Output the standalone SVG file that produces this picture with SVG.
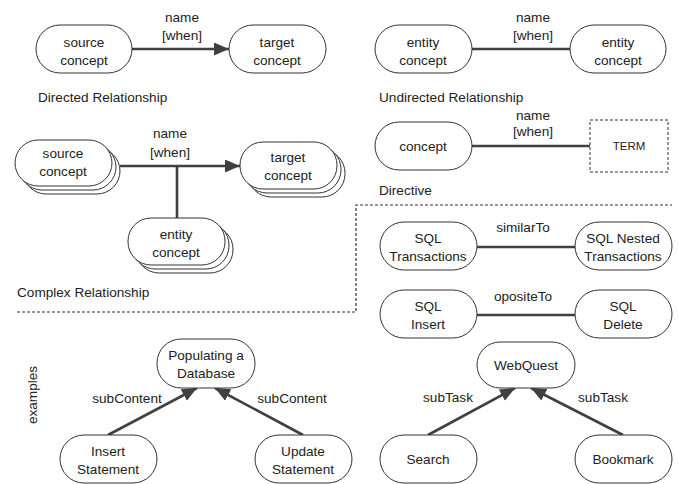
<svg xmlns="http://www.w3.org/2000/svg" width="678" height="484" viewBox="0 0 678 484">
<defs>
<style>
text{font-family:"Liberation Sans","DejaVu Sans",sans-serif;font-size:13.6px;fill:#222;text-anchor:middle}
.lbl{text-anchor:start}
.n{fill:#fff;stroke:#333;stroke-width:1}
.c{stroke:#404040;stroke-width:2.6;fill:none}
.sep{stroke:#333;stroke-width:1.2;stroke-dasharray:3 2;fill:none}
</style>
<marker id="ah" markerUnits="userSpaceOnUse" markerWidth="16" markerHeight="14" refX="15" refY="6.5" orient="auto">
<path d="M0,0 L15,6.5 L0,13 z" fill="#404040"/>
</marker>
</defs>
<rect width="678" height="484" fill="#fff"/>

<g id="connectors">
<line class="c" x1="132" y1="49" x2="229" y2="49" marker-end="url(#ah)"/>
<line class="c" x1="472" y1="49" x2="570" y2="49"/>
<line class="c" x1="472" y1="146" x2="590" y2="146"/>
<line class="c" x1="120" y1="166" x2="240" y2="166" marker-end="url(#ah)"/>
<line class="c" x1="177" y1="166" x2="177" y2="218"/>
<line class="c" x1="477" y1="247" x2="575" y2="247"/>
<line class="c" x1="477" y1="315" x2="575" y2="315"/>
<line class="c" x1="108" y1="435" x2="197" y2="388" marker-end="url(#ah)"/>
<line class="c" x1="303" y1="435" x2="215" y2="388" marker-end="url(#ah)"/>
<line class="c" x1="428" y1="435" x2="515" y2="388" marker-end="url(#ah)"/>
<line class="c" x1="623" y1="435" x2="531" y2="388" marker-end="url(#ah)"/>
</g>

<g id="separator">
<path class="sep" d="M17,312 H356 V205 H672"/>
</g>

<g id="labels">
<text x="182" y="22">name</text>
<text x="182" y="40">[when]</text>
<text class="lbl" x="38" y="102">Directed Relationship</text>
<text x="533" y="22">name</text>
<text x="533" y="40">[when]</text>
<text class="lbl" x="379" y="102">Undirected Relationship</text>
<text x="533" y="120">name</text>
<text x="533" y="136">[when]</text>
<text class="lbl" x="379" y="195">Directive</text>
<text x="170" y="138">name</text>
<text x="170" y="157">[when]</text>
<text class="lbl" x="17" y="297">Complex Relationship</text>
<text x="523" y="232">similarTo</text>
<text x="523" y="301">opositeTo</text>
<text x="127" y="403">subContent</text>
<text x="292" y="403">subContent</text>
<text x="448" y="402">subTask</text>
<text x="603" y="402">subTask</text>
<text transform="translate(37,395) rotate(-90)">examples</text>
</g>

<g id="dir-source">
<rect class="n" x="36" y="25" width="96" height="48" rx="24"/>
<text x="84" y="47">source</text><text x="84" y="65">concept</text>
</g>
<g id="dir-target">
<rect class="n" x="229" y="25" width="97" height="48" rx="24"/>
<text x="277" y="47">target</text><text x="277" y="65">concept</text>
</g>
<g id="und-entity1">
<rect class="n" x="375" y="25" width="97" height="48" rx="24"/>
<text x="423" y="47">entity</text><text x="423" y="65">concept</text>
</g>
<g id="und-entity2">
<rect class="n" x="570" y="25" width="96" height="48" rx="24"/>
<text x="618" y="47">entity</text><text x="618" y="65">concept</text>
</g>
<g id="directive-concept">
<rect class="n" x="375" y="122" width="97" height="48" rx="24"/>
<text x="423" y="151">concept</text>
</g>
<g id="directive-term">
<rect x="590" y="120" width="78" height="52" fill="#fff" stroke="#333" stroke-width="1" stroke-dasharray="3 2"/>
<text x="629" y="150" style="font-size:11.5px">TERM</text>
</g>

<g id="cx-source">
<rect class="n" x="23" y="148" width="97" height="46" rx="23"/>
<rect class="n" x="19" y="144" width="97" height="46" rx="23"/>
<rect class="n" x="15" y="140" width="97" height="46" rx="23"/>
<text x="63" y="158">source</text><text x="63" y="176">concept</text>
</g>
<g id="cx-target">
<rect class="n" x="248" y="150" width="97" height="47" rx="23"/>
<rect class="n" x="244" y="146" width="97" height="47" rx="23"/>
<rect class="n" x="240" y="142" width="97" height="47" rx="23"/>
<text x="288" y="162">target</text><text x="288" y="180">concept</text>
</g>
<g id="cx-entity">
<rect class="n" x="136" y="226" width="97" height="47" rx="23"/>
<rect class="n" x="132" y="222" width="97" height="47" rx="23"/>
<rect class="n" x="128" y="218" width="97" height="47" rx="23"/>
<text x="176" y="239">entity</text><text x="176" y="257">concept</text>
</g>

<g id="sql-transactions">
<rect class="n" x="380" y="222" width="97" height="48" rx="24"/>
<text x="428" y="243">SQL</text><text x="428" y="261">Transactions</text>
</g>
<g id="sql-nested">
<rect class="n" x="575" y="222" width="97" height="48" rx="24"/>
<text x="623" y="243">SQL Nested</text><text x="623" y="261">Transactions</text>
</g>
<g id="sql-insert">
<rect class="n" x="380" y="290" width="97" height="48" rx="24"/>
<text x="428" y="311">SQL</text><text x="428" y="329">Insert</text>
</g>
<g id="sql-delete">
<rect class="n" x="575" y="290" width="97" height="48" rx="24"/>
<text x="623" y="311">SQL</text><text x="623" y="329">Delete</text>
</g>

<g id="populating">
<rect class="n" x="157" y="339" width="98" height="49" rx="24"/>
<text x="206" y="360">Populating a</text><text x="206" y="378">Database</text>
</g>
<g id="insert-statement">
<rect class="n" x="60" y="435" width="97" height="48" rx="24"/>
<text x="108" y="456">Insert</text><text x="108" y="474">Statement</text>
</g>
<g id="update-statement">
<rect class="n" x="255" y="435" width="97" height="48" rx="24"/>
<text x="303" y="456">Update</text><text x="303" y="474">Statement</text>
</g>

<g id="webquest">
<rect class="n" x="477" y="342" width="98" height="46" rx="23"/>
<text x="526" y="370">WebQuest</text>
</g>
<g id="search">
<rect class="n" x="380" y="435" width="97" height="48" rx="24"/>
<text x="428" y="464">Search</text>
</g>
<g id="bookmark">
<rect class="n" x="575" y="435" width="97" height="48" rx="24"/>
<text x="623" y="464">Bookmark</text>
</g>
</svg>
